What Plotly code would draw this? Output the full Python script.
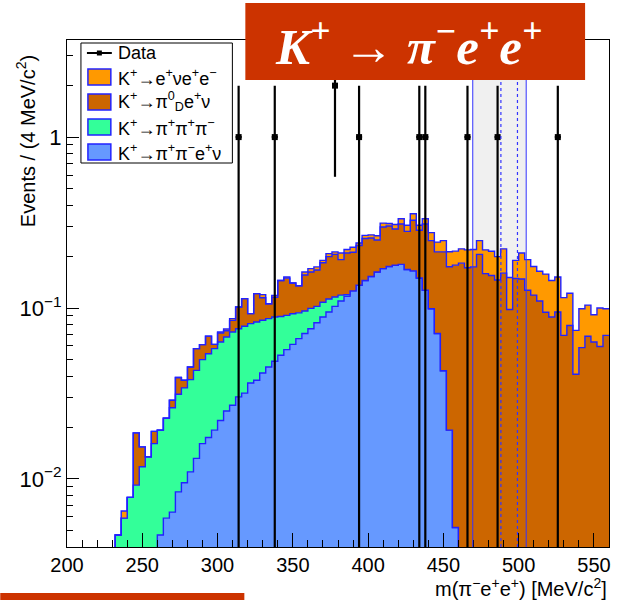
import numpy as np
import plotly.graph_objects as go

# ---------------- data ----------------
bin_lo, bin_hi, bin_w = 200, 560, 4

blue_pipienu = [0]*15 + [
    0.0047, 0.0059, 0.0064, 0.0084, 0.0095, 0.0110, 0.0132, 0.0161, 0.0175, 0.0193, 0.0220, 0.0250, 0.0270, 0.0302, 0.0318,
    0.0364, 0.0378, 0.0417, 0.0452, 0.0488, 0.0529, 0.0571, 0.0613, 0.0662, 0.0709, 0.0757, 0.0820, 0.0886, 0.0948, 0.1023,
    0.110, 0.117, 0.126, 0.136, 0.145, 0.153, 0.1625, 0.170, 0.175, 0.178, 0.180, 0.168, 0.165, 0.150, 0.127,
    0.099, 0.071, 0.043, 0.0193, 0.0052] + [0]*25

green_3pi = [0]*8 + [
    0.0047, 0.0059, 0.0078, 0.0092, 0.0118, 0.0135, 0.0161, 0.0146, 0.0168, 0.0197, 0.0229, 0.0246, 0.0271, 0.0300, 0.0338,
    0.0365, 0.0386, 0.0413, 0.0427, 0.0454, 0.0455, 0.0464, 0.0447, 0.0450, 0.0431, 0.0415, 0.0398, 0.0364, 0.0335, 0.0312,
    0.0275, 0.0251, 0.0238, 0.0203, 0.0194, 0.0182, 0.0137, 0.0090, 0.0025] + [0]*43

dorange_pi0d = [0]*11 + [
    0.0094, 0.0036, 0, 0.0029, 0, 0, 0.0028, 0.0079, 0.0037, 0.0071, 0.0147, 0.0112, 0.0145, 0.0034, 0.0081,
    0.0060, 0.0123, 0.0257, 0.0353, 0.0116, 0.0386, 0.0300, 0.0193, 0.0270, 0.0557, 0.0590, 0.0475, 0.0413, 0.0600, 0.0630,
    0.0647, 0.0760, 0.0870, 0.0900, 0.0730, 0.0905, 0.0860, 0.0960, 0.1100, 0.1040, 0.0875, 0.1280, 0.1270, 0.1120, 0.1300,
    0.1130, 0.1610, 0.135, 0.183, 0.149, 0.142, 0.170, 0.155, 0.173, 0.183, 0.172, 0.174, 0.206, 0.159, 0.155,
    0.146, 0.160, 0.098, 0.149, 0.148, 0.127, 0.119, 0.110, 0.0944, 0.0886, 0.0948, 0.0692, 0.079, 0.041, 0.0587,
    0.0684, 0.0633, 0.0596, 0.0692]

orange_enuee = [0]*9 + [0.0006] + [0]*15 + [
    0.0010, 0.0017, 0.0020, 0, 0, 0, 0, 0.0050, 0, 0.0030, 0, 0.0024, 0, 0, 0.0065,
    0.0075, 0.0070, 0.0060, 0.0080, 0.0070, 0.0180, 0.0100, 0.0150, 0.0080, 0.0110, 0.0110, 0.0150, 0.0160, 0.0100, 0.0180,
    0.0230, 0.0240, 0.0300, 0.020, 0.023, 0.028, 0.030, 0.035, 0.039, 0.037, 0.039, 0.047, 0.046, 0.042, 0.060,
    0.060, 0.054, 0.062, 0.053, 0.041, 0.062, 0.065, 0.056, 0.054, 0.0636, 0.0564, 0.0572, 0.0458, 0.043, 0.033,
    0.0403, 0.0356, 0.0281, 0.0404, 0.0298]

data_mass = [314, 338, 378, 394, 434, 438, 466, 486, 526]
data_counts = [1, 1, 2, 1, 1, 1, 1, 1, 1]

signal_window = [469.5, 505.0]
kaon_window = [488.2, 499.2]

xtick_vals = [200, 250, 300, 350, 400, 450, 500, 550]
ytick_vals = [0.01, 0.1, 1]
ytick_text = ["10<sup>−2</sup>", "10<sup>−1</sup>", "1"]

legend_labels = ["Data",
                 "K<sup>+</sup>→e<sup>+</sup>νe<sup>+</sup>e<sup>−</sup>",
                 "K<sup>+</sup>→π<sup>0</sup><sub>D</sub>e<sup>+</sup>ν",
                 "K<sup>+</sup>→π<sup>+</sup>π<sup>+</sup>π<sup>−</sup>",
                 "K<sup>+</sup>→π<sup>+</sup>π<sup>−</sup>e<sup>+</sup>ν"]

# ---------------- styling ----------------
C_BLUE = "#6699ff"
C_GREEN = "#33ff99"
C_DORANGE = "#cc6600"
C_ORANGE = "#ff9900"
C_LINE = "#2222ff"
C_RED = "#cc3300"
FONT = "Liberation Sans, Arial, sans-serif"

W, H = 617, 600
L, R, T, B = 67, 6, 40, 53
PW, PH = W - L - R, H - T - B


def px(x):
    return (x - L) / PW


def py(y):
    return (H - B - y) / PH


nb = len(blue_pipienu)
edges = bin_lo + bin_w * np.arange(nb + 1)
comps = np.array([blue_pipienu, green_3pi, dorange_pi0d, orange_enuee], dtype=float)
cum = np.cumsum(comps, axis=0)
FLOOR = 1e-5
fills = [C_BLUE, C_GREEN, C_DORANGE, C_ORANGE]

fig = go.Figure()
fig.add_trace(go.Scatter(x=[edges[0], edges[-1]], y=[FLOOR, FLOOR], mode="lines",
                         line=dict(width=0), hoverinfo="skip", showlegend=False))
for k in range(4):
    yk = np.maximum(cum[k], FLOOR)
    yk = np.append(yk, yk[-1])
    fig.add_trace(go.Scatter(x=edges, y=yk, mode="lines", line_shape="hv",
                             line=dict(color=C_LINE, width=1.4),
                             fill="tonexty", fillcolor=fills[k], showlegend=False))

cnt = np.array(data_counts, dtype=float)
fig.add_trace(go.Scatter(x=data_mass, y=data_counts, mode="markers",
                         marker=dict(color="black", size=6, symbol="square"),
                         error_y=dict(type="data", array=np.sqrt(cnt), color="black", thickness=2.2, width=0),
                         error_x=dict(type="constant", value=bin_w / 2, color="black", thickness=2.2, width=0),
                         showlegend=False))

shapes = []
annotations = []
# signal window band
shapes.append(dict(type="rect", xref="x", yref="paper", x0=signal_window[0], x1=signal_window[1], y0=0, y1=1,
                   fillcolor="#f0f0f0", line=dict(width=0), layer="below"))
for xv in signal_window:
    shapes.append(dict(type="line", xref="x", yref="paper", x0=xv, x1=xv, y0=0, y1=1,
                       line=dict(color="#3333ff", width=1), layer="above"))
for xv in kaon_window:
    shapes.append(dict(type="line", xref="x", yref="paper", x0=xv, x1=xv, y0=0, y1=1,
                       line=dict(color="#3333ff", width=1.2, dash="3px,3px"), layer="above"))

# title box
shapes.append(dict(type="rect", xref="paper", yref="paper", x0=px(246), x1=px(587), y0=py(80), y1=py(3),
                   fillcolor=C_RED, line=dict(width=0), layer="above"))
annotations.append(dict(xref="paper", yref="paper", x=px(410), y=py(43), xanchor="center", yanchor="middle",
                        showarrow=False,
                        text="<b><i>K<sup>+</sup> → π<sup>−</sup>e<sup>+</sup>e<sup>+</sup></i></b>",
                        font=dict(family="Liberation Serif, DejaVu Serif, serif", size=51, color="white")))
# bottom red bar
shapes.append(dict(type="rect", xref="paper", yref="paper", x0=px(0), x1=px(245), y0=py(600), y1=py(593),
                   fillcolor=C_RED, line=dict(width=0), layer="above"))

# legend (drawn manually, ROOT style)
shapes.append(dict(type="rect", xref="paper", yref="paper", x0=px(81), x1=px(233), y0=py(163), y1=py(43),
                   fillcolor="white", line=dict(color="black", width=1), layer="above"))
entry_y = [53, 77, 102, 127, 152]
legend_fills = [None, C_ORANGE, C_DORANGE, C_GREEN, C_BLUE]
for yy, lab, fc in zip(entry_y, legend_labels, legend_fills):
    if fc is None:
        shapes.append(dict(type="line", xref="paper", yref="paper", x0=px(87), x1=px(112), y0=py(yy), y1=py(yy),
                           line=dict(color="black", width=2), layer="above"))
        shapes.append(dict(type="rect", xref="paper", yref="paper", x0=px(97), x1=px(102), y0=py(yy + 2.5),
                           y1=py(yy - 2.5), fillcolor="black", line=dict(width=0), layer="above"))
    else:
        shapes.append(dict(type="rect", xref="paper", yref="paper", x0=px(88), x1=px(111), y0=py(yy + 8),
                           y1=py(yy - 8), fillcolor=fc, line=dict(color=C_LINE, width=1.5), layer="above"))
    annotations.append(dict(xref="paper", yref="paper", x=px(116), y=py(yy), xanchor="left", yanchor="middle",
                            showarrow=False, text=lab, font=dict(family=FONT, size=18, color="black")))

# axis titles
annotations.append(dict(xref="paper", yref="paper", x=1.0, y=py(587), xanchor="right", yanchor="middle",
                        showarrow=False, text="m(π<sup>−</sup>e<sup>+</sup>e<sup>+</sup>) [MeV/c<sup>2</sup>]",
                        font=dict(family=FONT, size=20, color="black")))
annotations.append(dict(xref="paper", yref="paper", x=px(25), y=py(229), xanchor="center", yanchor="bottom",
                        textangle=-90, showarrow=False, text="Events / (4 MeV/c<sup>2</sup>)",
                        font=dict(family=FONT, size=20, color="black")))

yminor = [v * d for d in (0.001, 0.01, 0.1, 1) for v in range(2, 10)]

fig.update_layout(
    width=W, height=H, margin=dict(l=L, r=R, t=T, b=B),
    paper_bgcolor="white", plot_bgcolor="white", showlegend=False,
    shapes=shapes, annotations=annotations,
    xaxis=dict(range=[bin_lo, bin_hi], tickmode="array", tickvals=xtick_vals, ticks="inside", ticklen=14,
               tickwidth=1, tickcolor="black", showline=True, linecolor="black", linewidth=1, mirror=True,
               showgrid=False, zeroline=False, tickfont=dict(family=FONT, size=20, color="black"),
               minor=dict(dtick=10, tick0=200, ticks="inside", ticklen=7, tickcolor="black", tickwidth=1,
                          showgrid=False)),
    yaxis=dict(type="log", range=[np.log10(0.004), 0.568], tickmode="array", tickvals=ytick_vals,
               ticktext=ytick_text, ticks="inside", ticklen=12, tickwidth=1, tickcolor="black",
               showline=True, linecolor="black", linewidth=1, mirror=True, showgrid=False, zeroline=False,
               tickfont=dict(family=FONT, size=22, color="black"),
               minor=dict(tickmode="array", tickvals=yminor, ticks="inside", ticklen=6, tickcolor="black",
                          tickwidth=1, showgrid=False)),
)

fig.write_html("out.html")
